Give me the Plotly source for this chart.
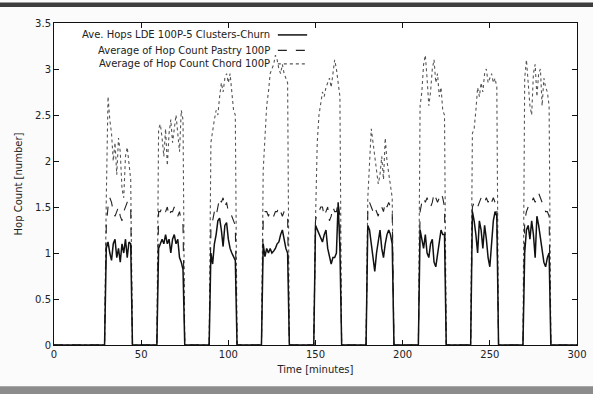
import plotly.graph_objects as go

# ---- data ----
burst_starts = [30, 60, 90, 120, 150, 180, 210, 240, 270]
minutes = list(range(0, 301))

lde_bursts = [
    [1.05, 1.12, 1.0, 0.92, 1.1, 1.15, 0.95, 1.05, 0.9, 1.1, 1.0, 1.15, 0.95, 1.12, 1.1],
    [1.05, 1.1, 1.15, 1.1, 1.2, 1.1, 1.15, 1.0, 1.15, 1.2, 1.1, 1.15, 0.95, 0.9, 0.82],
    [1.0, 0.88, 1.1, 1.2, 1.35, 1.38, 1.25, 1.07, 1.3, 1.33, 1.15, 1.05, 1.0, 0.95, 0.92],
    [1.1, 0.96, 1.05, 1.0, 1.05, 1.0, 1.02, 1.05, 1.1, 1.12, 1.2, 1.25, 1.15, 1.05, 1.0],
    [1.3, 1.25, 1.2, 1.15, 1.12, 1.2, 1.25, 1.05, 0.95, 0.88, 0.95, 0.95, 1.0, 1.55, 1.05],
    [1.3, 1.25, 1.1, 0.95, 0.8, 1.0, 1.15, 1.25, 1.05, 0.95, 1.1, 1.2, 1.25, 1.2, 1.1],
    [1.25, 1.15, 1.05, 1.2, 1.0, 0.95, 1.1, 1.15, 0.9, 0.85, 1.0, 1.15, 1.25, 1.2, 1.2],
    [1.45, 1.35, 1.2, 1.0, 1.35, 1.25, 1.05, 1.3, 1.15, 0.95, 0.85, 1.1, 1.35, 1.45, 1.4],
    [1.0, 1.25, 1.3, 1.15, 1.35, 1.2, 0.95, 1.4, 1.3, 1.15, 1.05, 0.9, 0.85, 0.95, 1.0],
]
pastry_bursts = [
    [1.3, 1.5, 1.6, 1.55, 1.45, 1.4, 1.45, 1.5, 1.4, 1.35, 1.45, 1.5, 1.55, 1.55, 1.5],
    [1.45, 1.45, 1.5, 1.45, 1.45, 1.5, 1.4, 1.45, 1.45, 1.5, 1.45, 1.4, 1.45, 1.35, 1.3],
    [1.25, 1.35, 1.45, 1.4, 1.5, 1.6, 1.55, 1.6, 1.5, 1.55, 1.45, 1.45, 1.4, 1.35, 1.3],
    [1.35, 1.45, 1.45, 1.4, 1.45, 1.45, 1.4, 1.45, 1.45, 1.5, 1.45, 1.4, 1.45, 1.45, 1.4],
    [1.35, 1.45, 1.45, 1.5, 1.5, 1.4, 1.45, 1.5, 1.35, 1.4, 1.5, 1.45, 1.45, 1.55, 1.4],
    [1.45, 1.55, 1.5, 1.45, 1.5, 1.45, 1.4, 1.5, 1.5, 1.45, 1.55, 1.5, 1.55, 1.5, 1.45],
    [1.45, 1.55, 1.6, 1.55, 1.6, 1.55, 1.5, 1.55, 1.65, 1.6, 1.55, 1.6, 1.65, 1.6, 1.5],
    [1.5, 1.55, 1.55, 1.5, 1.55, 1.6, 1.55, 1.55, 1.6, 1.55, 1.6, 1.55, 1.6, 1.55, 1.5],
    [1.35, 1.45, 1.5, 1.5, 1.55, 1.6, 1.55, 1.6, 1.65, 1.6, 1.55, 1.5, 1.45, 1.45, 1.4],
]
chord_bursts = [
    [1.6, 2.7, 2.45, 2.3, 2.0, 2.2, 1.85, 2.25, 2.1, 1.7, 1.6, 2.05, 2.15, 1.95, 1.8],
    [2.35, 2.4, 2.25, 2.05, 2.35, 1.95, 2.3, 2.45, 2.2, 2.35, 2.5, 2.3, 2.1, 2.55, 2.45],
    [2.2, 2.35, 2.45, 2.55, 2.5, 2.7, 2.85, 2.75, 2.9, 2.95, 2.85, 2.95, 2.7, 2.55, 2.5],
    [1.9, 2.3, 2.6, 2.75, 2.95, 3.0, 3.05, 3.15, 3.1, 3.0, 2.95, 3.05, 2.95, 2.9, 2.85],
    [1.35, 2.2, 2.5, 2.65, 2.75, 2.7, 2.8, 2.85, 2.9, 2.8, 2.95, 3.1, 3.0, 2.85, 2.7],
    [1.6, 2.0, 2.35, 2.2, 2.05, 1.9, 1.75, 1.85, 2.05, 1.8, 2.25, 2.0, 1.85, 1.7, 1.6],
    [2.6, 2.75, 3.05, 3.15, 2.9, 2.6, 2.75, 3.0, 3.1, 2.85, 2.95, 2.7, 2.8, 2.55, 2.5],
    [2.3, 2.35, 2.55, 2.8, 2.7, 2.85, 2.75, 2.95, 3.0, 2.85, 2.9, 2.95, 2.85, 2.9, 2.8],
    [2.9, 3.1, 2.85, 2.6, 2.5, 2.95, 3.05, 2.7, 2.95, 3.0, 2.6, 2.9, 2.8, 2.75, 2.6],
]

series_names = [
    "Ave. Hops LDE 100P-5 Clusters-Churn",
    "Average of Hop Count Pastry 100P",
    "Average of Hop Count Chord 100P",
]
x_ticks = [0, 50, 100, 150, 200, 250, 300]
y_ticks = [0, 0.5, 1, 1.5, 2, 2.5, 3, 3.5]
y_tick_labels = ["0", "0.5", "1", "1.5", "2", "2.5", "3", "3.5"]


def build(bursts):
    vals = [0.0] * len(minutes)
    for start, b in zip(burst_starts, bursts):
        for i, v in enumerate(b):
            vals[start + i] = v
    return vals


lde = build(lde_bursts)
pastry = build(pastry_bursts)
chord = build(chord_bursts)

styles = [
    dict(color="#111111", width=1.5, dash="solid"),
    dict(color="#222222", width=1.1, dash="dash"),
    dict(color="#555555", width=1.1, dash="dot"),
]

fig = go.Figure()
for vals, st, name in [(chord, styles[2], series_names[2]),
                       (pastry, styles[1], series_names[1]),
                       (lde, styles[0], series_names[0])]:
    fig.add_trace(go.Scatter(x=minutes, y=vals, mode="lines", name=name,
                             line=st, showlegend=False))

font = "DejaVu Sans"
axis_common = dict(showline=True, linecolor="#111", linewidth=1, mirror="ticks",
                   ticks="inside", ticklen=5, tickcolor="#111", showgrid=False,
                   zeroline=False, automargin=False,
                   tickfont=dict(family=font, size=10, color="#222"))

fig.update_layout(
    width=593, height=394,
    margin=dict(l=54, r=16, t=23, b=49),
    paper_bgcolor="#fbfbfb", plot_bgcolor="#ffffff",
    xaxis=dict(range=[0, 300], tickvals=x_ticks, ticktext=[str(v) for v in x_ticks],
               title=dict(text="Time [minutes]", font=dict(family=font, size=10, color="#222"),
                          standoff=6), **axis_common),
    yaxis=dict(range=[0, 3.5], tickvals=y_ticks, ticktext=y_tick_labels,
               title=dict(text="Hop Count [number]", font=dict(family=font, size=10, color="#222"),
                          standoff=10), **axis_common),
)

# legend (gnuplot style: text right-aligned, sample to the right)
leg_y = [0.963, 0.915, 0.873]
for name, st, yy in zip(series_names, styles, leg_y):
    fig.add_annotation(xref="paper", yref="paper", x=0.416, y=yy, text=name,
                       showarrow=False, xanchor="right", yanchor="middle",
                       font=dict(family=font, size=10, color="#222"))
    fig.add_shape(type="line", xref="paper", yref="paper", x0=0.428, x1=0.484,
                  y0=yy, y1=yy, line=st)

# frame decorations of the screenshot
fig.add_shape(type="rect", xref="paper", yref="paper", x0=-0.11, x1=1.04,
              y0=1.05, y1=1.064, fillcolor="#3d3d3d", line=dict(width=0), layer="above")
fig.add_shape(type="rect", xref="paper", yref="paper", x0=-0.11, x1=1.04,
              y0=-0.16, y1=-0.128, fillcolor="#8c8c8c", line=dict(width=0), layer="below")

fig.write_html("out.html", config={"displayModeBar": False},
               post_script="document.body.style.margin='0';document.body.style.padding='0';")
